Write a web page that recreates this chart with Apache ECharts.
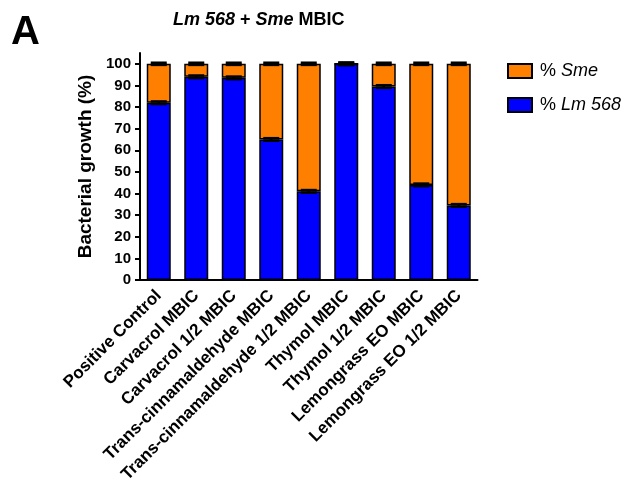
<!DOCTYPE html>
<html>
<head>
<meta charset="utf-8">
<script src="https://cdn.jsdelivr.net/npm/echarts@6/dist/echarts.min.js"></script>
<style>
  html, body { margin: 0; padding: 0; background: #fff; }
  #chart { width: 626px; height: 487px; }
</style>
</head>
<body>
<div id="chart"></div>
<script>
// Treatment groups on the x axis
var categories = [
  'Positive Control',
  'Carvacrol MBIC',
  'Carvacrol 1/2 MBIC',
  'Trans-cinnamaldehyde MBIC',
  'Trans-cinnamaldehyde 1/2 MBIC',
  'Thymol MBIC',
  'Thymol 1/2 MBIC',
  'Lemongrass EO MBIC',
  'Lemongrass EO 1/2 MBIC'
];

// Share of the biofilm (%) for each species
var lmPercent  = [82, 94, 93.5, 65, 41, 100, 89.5, 44, 34.5];
var smePercent = [18, 6, 6.5, 35, 59, 0, 10.5, 56, 65.5];

// Standard error of each share
var lmErr  = [0.6, 0.6, 0.6, 0.6, 0.6, 0.6, 0.6, 0.6, 0.6];
var smeErr = [0.5, 0.5, 0.5, 0.5, 0.5, 0.5, 0.5, 0.5, 0.5];

var yTicks = [0, 10, 20, 30, 40, 50, 60, 70, 80, 90, 100];

var FONT = '"Liberation Sans", Arial, sans-serif';

// Top of each stacked segment with its error
var lmErrData = lmPercent.map(function (v, i) { return [i, v, lmErr[i]]; });
var smeErrData = smePercent.map(function (v, i) { return [i, lmPercent[i] + v, smeErr[i]]; });

function renderError(params, api) {
  var x = api.value(0), top = api.value(1), e = api.value(2);
  var hi = api.coord([x, top + e]);
  var lo = api.coord([x, top - e]);
  var mid = api.coord([x, top]);
  var half = 8;
  var style = { stroke: '#000', lineWidth: 2.5 };
  return {
    type: 'group',
    children: [
      { type: 'line', shape: { x1: mid[0], y1: hi[1], x2: mid[0], y2: lo[1] }, style: style },
      { type: 'line', shape: { x1: mid[0] - half, y1: hi[1], x2: mid[0] + half, y2: hi[1] }, style: style },
      { type: 'line', shape: { x1: mid[0] - half, y1: lo[1], x2: mid[0] + half, y2: lo[1] }, style: style }
    ]
  };
}

var chart = echarts.init(document.getElementById('chart'));
chart.setOption({
  backgroundColor: '#fff',
  animation: false,
  title: {
    text: '{i|Lm 568} {b|+} {i|Sme} {b|MBIC}',
    left: 168,
    top: 6,
    textStyle: {
      rich: {
        i: { fontFamily: FONT, fontSize: 18, fontWeight: 'bold', fontStyle: 'italic', color: '#000' },
        b: { fontFamily: FONT, fontSize: 18, fontWeight: 'bold', color: '#000' }
      }
    }
  },
  graphic: [{
    type: 'text',
    left: 11,
    top: 13,
    style: { text: 'A', font: 'bold 40px ' + FONT, fill: '#000' }
  }],
  legend: {
    orient: 'vertical',
    left: 502,
    top: 57,
    itemWidth: 24,
    itemHeight: 14,
    itemGap: 16,
    icon: 'rect',
    data: ['Sme', 'Lm 568'],
    formatter: function (name) { return '% {i|' + name + '}'; },
    itemStyle: { borderColor: '#000', borderWidth: 2 },
    textStyle: {
      fontFamily: FONT, fontSize: 18, color: '#000', padding: [0, 0, 0, 3],
      rich: { i: { fontFamily: FONT, fontSize: 18, fontStyle: 'italic', color: '#000' } }
    }
  },
  grid: { left: 140, right: 148.5, top: 53, bottom: 207, containLabel: false },
  xAxis: {
    type: 'category',
    data: categories,
    axisLine: { lineStyle: { color: '#000', width: 2 } },
    axisTick: { alignWithLabel: true, length: 6, lineStyle: { color: '#000', width: 2 } },
    axisLabel: {
      rotate: 45, interval: 0, margin: 13,
      fontFamily: FONT, fontSize: 17, fontWeight: 'bold', color: '#000'
    }
  },
  yAxis: {
    type: 'value',
    min: 0,
    max: 105,
    interval: 10,
    name: 'Bacterial growth (%)',
    nameLocation: 'middle',
    nameGap: 40,
    nameTextStyle: { fontFamily: FONT, fontSize: 19, fontWeight: 'bold', color: '#000' },
    axisLine: { show: true, lineStyle: { color: '#000', width: 2 } },
    axisTick: { show: true, length: 5, lineStyle: { color: '#000', width: 2 } },
    splitLine: { show: false },
    axisLabel: {
      showMaxLabel: false,
      margin: 9,
      fontFamily: FONT, fontSize: 15, fontWeight: 'bold', color: '#000',
      formatter: function (v) { return yTicks.indexOf(v) >= 0 ? String(v) : ''; }
    }
  },
  series: [
    {
      name: 'Lm 568',
      type: 'bar',
      stack: 'growth',
      barWidth: 24,
      data: lmPercent,
      itemStyle: { color: '#0000ff', borderColor: '#000', borderWidth: 1.5 }
    },
    {
      name: 'Sme',
      type: 'bar',
      stack: 'growth',
      barWidth: 24,
      data: smePercent,
      itemStyle: { color: '#ff8000', borderColor: '#000', borderWidth: 1.5 }
    },
    {
      type: 'custom',
      renderItem: renderError,
      data: lmErrData,
      z: 5
    },
    {
      type: 'custom',
      renderItem: renderError,
      data: smeErrData,
      z: 5
    }
  ]
});
</script>
</body>
</html>
